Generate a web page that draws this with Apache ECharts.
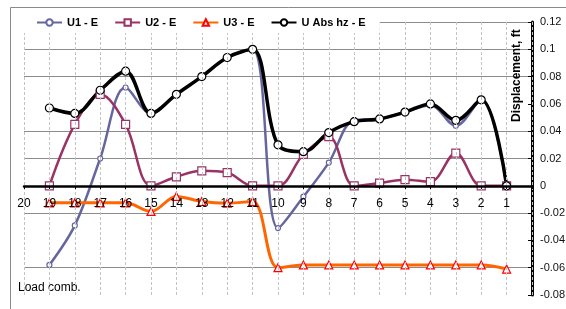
<!DOCTYPE html>
<html>
<head>
<meta charset="utf-8">
<script src="https://cdn.jsdelivr.net/npm/echarts@6/dist/echarts.min.js"></script>
<style>
    html, body {margin: 0; padding: 0; background: #fff;}
    #chart {width: 566px; height: 309px;}
</style>
</head>
<body>
<div id="chart"></div>
<script>
var loadComb = [19, 18, 17, 16, 15, 14, 13, 12, 11, 10, 9, 8, 7, 6, 5, 4, 3, 2, 1]
var u1 = [-0.058, -0.029, 0.020, 0.072, 0.053, 0.067, 0.080, 0.094, 0.100, -0.031, -0.008, 0.017, 0.048, 0.049, 0.054, 0.059, 0.044, 0.063, 0]
var u2 = [0, 0.045, 0.067, 0.045, 0, 0.0066, 0.011, 0.0097, 0, 0, 0.023, 0.036, 0, 0.002, 0.0045, 0.003, 0.024, 0, 0]
var u3 = [-0.0125, -0.0125, -0.0125, -0.0125, -0.0188, -0.0078, -0.0115, -0.0127, -0.0115, -0.060, -0.058, -0.058, -0.058, -0.058, -0.058, -0.058, -0.058, -0.058, -0.061]
var uAbs = [0.057, 0.053, 0.070, 0.084, 0.053, 0.067, 0.080, 0.094, 0.100, 0.030, 0.025, 0.039, 0.047, 0.049, 0.054, 0.060, 0.048, 0.063, 0]
var seriesNames = ['U1 - E', 'U2 - E', 'U3 - E', 'U Abs hz - E']

var font = '"Liberation Sans", Arial, sans-serif'

function pairs(values) {
    return values.map(function (v, i) {
        return [loadComb[i], v]
    })
}

function makeSeries(name, values, color, width, symbol, size, border) {
    return {
        name: name,
        type: 'line',
        z: 1,
        data: pairs(values),
        smooth: 0.35,
        symbol: symbol,
        symbolSize: size,
        showAllSymbol: true,
        lineStyle: {color: color, width: width},
        itemStyle: {color: '#fff', borderColor: border, borderWidth: 1.2},
        emphasis: {disabled: true}
    }
}

var chart = echarts.init(document.getElementById('chart'))

var option = {
    animation: false,
    textStyle: {fontFamily: font},
    graphic: [
        {
            type: 'polyline',
            shape: {points: [[10.5, 320], [10.5, 7.5], [570, 7.5]]},
            style: {stroke: '#8a8a8a', fill: null, lineWidth: 1},
            z: 0
        },
        {
            type: 'text',
            left: 18,
            top: 282,
            style: {text: 'Load comb.', font: '12px ' + font, fill: '#000'}
        },
        {
            type: 'text',
            x: 511,
            y: 122,
            rotation: Math.PI / 2,
            style: {text: 'Displacement, ft', font: 'bold 12px ' + font, fill: '#000'},
            z: 10
        }
    ],
    legend: {
        data: seriesNames,
        left: 24,
        top: 11,
        padding: [6, 14, 5, 12],
        backgroundColor: '#fff',
        itemWidth: 25,
        itemHeight: 8,
        itemGap: 16,
        textStyle: {fontFamily: font, fontSize: 11, fontWeight: 'bold', color: '#000'},
        z: 20
    },
    grid: {left: 24, right: 34, top: 22, bottom: 14, containLabel: false, outerBoundsMode: 'none'},
    xAxis: {
        type: 'value',
        inverse: true,
        min: 0,
        max: 20,
        interval: 1,
        position: 'bottom',
        offset: -109,
        z: 5,
        axisLine: {onZero: false, lineStyle: {color: '#000', width: 2.5}},
        axisTick: {show: true, length: 3, lineStyle: {color: '#000'}},
        axisLabel: {
            margin: 12,
            fontSize: 12,
            color: '#000',
            formatter: function (v) {
                return v === 0 ? '' : v
            }
        },
        splitLine: {show: true, lineStyle: {color: '#c4c4c4', type: [3, 2], width: 1}}
    },
    yAxis: {
        type: 'value',
        position: 'right',
        min: -0.08,
        max: 0.12,
        interval: 0.02,
        z: 0,
        axisLine: {show: true, lineStyle: {color: '#000', width: 3}},
        axisTick: {show: true, inside: true, length: 4, lineStyle: {color: '#000', width: 1}},
        axisLabel: {margin: 8, fontSize: 11, color: '#111'},
        splitLine: {
            show: true,
            lineStyle: {
                color: ['transparent', '#8c8c8c', 'transparent', '#8c8c8c', '#8c8c8c', '#8c8c8c',
                    '#8c8c8c', 'transparent', '#8c8c8c', '#8c8c8c', '#8c8c8c'],
                width: 1
            }
        }
    },
    series: [
        makeSeries(seriesNames[0], u1, '#66669f', 2.5, 'circle', 5, '#66669f'),
        makeSeries(seriesNames[1], u2, '#993366', 2.5, 'rect', 8, '#993366'),
        makeSeries(seriesNames[2], u3, '#ff6600', 3, 'triangle', 8, '#ff0000'),
        makeSeries(seriesNames[3], uAbs, '#000000', 3.5, 'circle', 8, '#000000')
    ]
}

chart.setOption(option)
</script>
</body>
</html>
